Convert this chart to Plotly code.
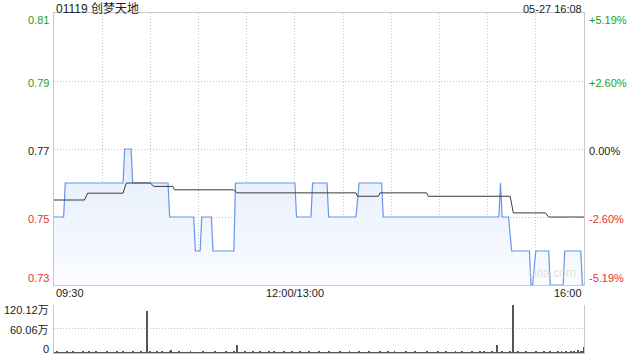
import plotly.graph_objects as go

# ---- data ----
prev_close = 0.77
price_t = [0, 6, 7, 43, 44, 48, 49, 71, 72, 87, 88, 91, 92, 98, 99, 112, 113, 150, 151, 160,
           161, 170, 171, 188, 190, 204, 205, 277, 278, 279, 283, 285, 296, 297, 298, 300, 308,
           309, 317, 318, 328, 329, 330]
price_v = [0.75, 0.75, 0.76, 0.76, 0.77, 0.77, 0.76, 0.76, 0.75, 0.75, 0.74, 0.74, 0.75, 0.75,
           0.74, 0.74, 0.76, 0.76, 0.75, 0.75, 0.76, 0.76, 0.75, 0.75, 0.76, 0.76, 0.75, 0.75,
           0.76, 0.75, 0.75, 0.74, 0.74, 0.73, 0.73, 0.74, 0.74, 0.73, 0.73, 0.74, 0.74, 0.73, 0.73]
avg_t = [0, 19, 21, 43, 45, 60, 62, 74, 75, 112, 114, 188, 189, 202, 203, 232, 233, 284, 286,
         306, 308, 330]
avg_v = [0.755, 0.755, 0.757, 0.757, 0.760, 0.760, 0.759, 0.759, 0.758, 0.758, 0.7571, 0.7571,
         0.7561, 0.7561, 0.7571, 0.7571, 0.7561, 0.7561, 0.7512, 0.7512, 0.750, 0.750]
# volume per minute, in 万
volume = [
    3, 2, 4, 2, 3, 2, 2, 3, 5, 2, 3, 2, 4, 3, 2, 3, 2, 2, 4, 3, 2, 3, 6, 2, 3, 2, 4, 2, 3, 2,
    2, 3, 2, 4, 2, 3, 2, 2, 3, 4, 2, 3, 2, 5, 3, 2, 2, 3, 2, 4, 3, 2, 3, 2, 4, 2, 3, 2, 106, 3,
    4, 2, 3, 2, 5, 3, 2, 4, 3, 2, 3, 2, 4, 8, 3, 2, 3, 2, 4, 2, 3, 2, 2, 3, 2, 4, 2, 3, 2, 3,
    2, 3, 2, 4, 2, 3, 2, 3, 2, 2, 4, 3, 2, 3, 2, 2, 3, 4, 2, 3, 2, 3, 4, 2, 20, 3, 2, 3, 2, 4,
    3, 2, 2, 3, 5, 2, 3, 2, 4, 3, 2, 3, 2, 2, 4, 3, 2, 5, 3, 2, 3, 2, 2, 4, 3, 2, 3, 2, 4, 3,
    2, 3, 2, 4, 2, 3, 2, 3, 2, 4, 2, 3, 2, 2, 3, 4, 2, 3, 2, 3, 2, 4, 3, 2, 3, 2, 2, 3, 4, 2,
    3, 2, 3, 2, 4, 2, 3, 2, 2, 3, 4, 2, 3, 2, 3, 2, 4, 2, 3, 2, 2, 3, 2, 4, 3, 2, 3, 2, 5, 2,
    3, 2, 4, 2, 3, 2, 3, 2, 2, 4, 3, 2, 3, 2, 3, 4, 2, 3, 2, 2, 3, 2, 4, 3, 2, 3, 2, 3, 2, 4,
    2, 3, 2, 3, 4, 2, 3, 2, 2, 3, 5, 2, 3, 2, 4, 3, 2, 3, 2, 2, 4, 3, 2, 3, 2, 5, 3, 2, 4, 3,
    2, 3, 2, 4, 3, 2, 20, 3, 2, 4, 3, 2, 3, 2, 5, 3, 120.12, 3, 2, 4, 3, 2, 3, 2, 4, 3, 2, 3, 2, 3,
    4, 2, 3, 2, 3, 5, 2, 3, 2, 4, 3, 2, 3, 2, 4, 3, 5, 2, 3, 4, 2, 3, 6, 3, 4, 2, 8, 3, 4, 5,
    15,
]
price_ticks = [0.81, 0.79, 0.77, 0.75, 0.73]
pct_labels = ["+5.19%", "+2.60%", "0.00%", "-2.60%", "-5.19%"]
vol_ticks = [120.12, 60.06, 0]
vol_labels = ["120.12万", "60.06万", "0"]
x_tick_pos = [0, 150, 330]
x_tick_labels = ["09:30", "12:00/13:00", "16:00"]
title_text = "01119 创梦天地"
time_text = "05-27 16:08"

FONT = "Liberation Sans, Arial, Noto Sans CJK SC, sans-serif"
GREEN = "#1aa11a"
RED = "#e83030"
DARK = "#222222"
GRID = "#c4c4c4"
DOT = "1px,2px"

fig = go.Figure()
fig.add_trace(go.Scatter(
    x=price_t, y=price_v, mode="lines",
    line=dict(color="#6496ea", width=1.2),
    fill="tozeroy",
    fillgradient=dict(type="vertical", start=0.73, stop=0.77,
                      colorscale=[[0, "rgb(250,252,255)"], [1, "rgb(228,237,251)"]]),
    xaxis="x", yaxis="y", hoverinfo="skip"))
fig.add_trace(go.Scatter(
    x=avg_t, y=avg_v, mode="lines", line=dict(color="#3a3a3a", width=1),
    xaxis="x", yaxis="y", hoverinfo="skip"))
fig.add_trace(go.Bar(
    x=list(range(len(volume))), y=volume, width=0.6,
    marker=dict(color="#555555", line=dict(width=0)),
    xaxis="x2", yaxis="y2", hoverinfo="skip"))

annotations = []
for v in price_ticks:
    col = GREEN if v > prev_close + 1e-9 else (RED if v < prev_close - 1e-9 else DARK)
    shift = -7 if v == 0.81 else (7 if v == 0.73 else -2)
    annotations.append(dict(x=0, xref="paper", xanchor="right", xshift=-3, y=v, yref="y",
                            yshift=shift, text=f"{v:.2f}", showarrow=False,
                            font=dict(size=11, color=col, family=FONT)))
for v, lab in zip(price_ticks, pct_labels):
    col = GREEN if v > prev_close + 1e-9 else (RED if v < prev_close - 1e-9 else DARK)
    shift = -7 if v == 0.81 else (7 if v == 0.73 else -2)
    annotations.append(dict(x=1, xref="paper", xanchor="left", xshift=3, y=v, yref="y",
                            yshift=shift, text=lab, showarrow=False,
                            font=dict(size=11, color=col, family=FONT)))
for v, lab in zip(vol_ticks, vol_labels):
    shift = -5 if v == 120.12 else (4 if v == 0 else -1)
    annotations.append(dict(x=0, xref="paper", xanchor="right", xshift=-3, y=v, yref="y2",
                            yshift=shift, text=lab, showarrow=False,
                            font=dict(size=11, color=DARK, family=FONT)))
anchors = ["left", "center", "right"]
for p, lab, a in zip(x_tick_pos, x_tick_labels, anchors):
    annotations.append(dict(x=p, xref="x", xanchor=a, y=0.176, yref="paper", yanchor="middle",
                            text=lab, showarrow=False,
                            font=dict(size=11, color=DARK, family=FONT)))
annotations.append(dict(x=0, xref="paper", xanchor="left", y=1.012, yref="paper",
                        yanchor="middle", text=title_text, showarrow=False,
                        font=dict(size=12, color=DARK, family=FONT)))
annotations.append(dict(x=1, xref="paper", xanchor="right", y=1.012, yref="paper",
                        yanchor="middle", text=time_text, showarrow=False,
                        font=dict(size=11, color=DARK, family=FONT)))
annotations.append(dict(x=310, xref="x", xanchor="center", y=0.731, yref="y", yanchor="bottom",
                        text="sina.com", showarrow=False,
                        font=dict(size=12, color="#e2e2e2", family=FONT)))

fig.update_layout(
    width=640, height=360,
    margin=dict(l=54, r=56, t=13, b=7),
    paper_bgcolor="white", plot_bgcolor="white",
    showlegend=False,
    bargap=0,
    annotations=annotations,
    xaxis=dict(domain=[0, 1], range=[0, 330], tickvals=list(range(0, 331, 30)),
               showgrid=True, gridcolor=GRID, griddash=DOT, gridwidth=1,
               showticklabels=False, ticks="", showline=True, linecolor="#c8c8c8",
               mirror=True, zeroline=False, anchor="y"),
    yaxis=dict(domain=[0.2, 1], range=[0.73, 0.81], tickvals=price_ticks,
               showgrid=True, gridcolor=GRID, griddash=DOT, gridwidth=1,
               showticklabels=False, ticks="", showline=True, linecolor="#c8c8c8",
               mirror=True, zeroline=False, anchor="x"),
    xaxis2=dict(domain=[0, 1], range=[0, 330], showgrid=False, showticklabels=False,
                ticks="", showline=True, linecolor="#c8c8c8", zeroline=False, anchor="y2"),
    yaxis2=dict(domain=[0, 0.1412], range=[0, 120.12], tickvals=[60.06, 120.12],
                showgrid=True, gridcolor=GRID, griddash=DOT, gridwidth=1,
                showticklabels=False, ticks="", showline=True, linecolor="#c8c8c8",
                mirror=True, zeroline=False, anchor="x2"),
)

fig.write_html("out.html")
